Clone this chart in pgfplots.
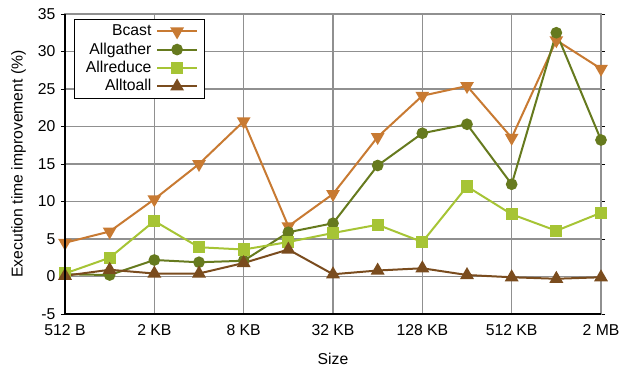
\documentclass[border=0pt]{standalone}
\usepackage{pgfplots}
\pgfplotsset{compat=1.18}
\usepackage{fontspec}
\setmainfont{Liberation Sans}

\definecolor{bcast}{HTML}{C87A32}
\definecolor{allgather}{HTML}{667A1E}
\definecolor{allreduce}{HTML}{A6C435}
\definecolor{alltoall}{HTML}{7A4C1E}
\definecolor{gridgray}{HTML}{909090}

\newcommand{\chartfont}{\fontsize{11.8}{14}\selectfont}

\begin{document}
\chartfont
\begin{tikzpicture}[x=0.75pt,y=0.75pt]
\begin{axis}[
  name=main,
  scale only axis,
  width=402pt, height=225pt,
  xmin=0, xmax=12, ymin=-5, ymax=35,
  xtick={0,2,4,6,8,10,12},
  xticklabels={512 B,2 KB,8 KB,32 KB,128 KB,512 KB,2 MB},
  ytick={-5,0,5,10,15,20,25,30,35},
  /pgf/number format/assume math mode=true,
  tick label style={font=\chartfont},
  label style={font=\chartfont},
  xlabel={Size},
  ylabel={Execution time improvement (\%)},
  xlabel style={yshift=-5pt},
  ylabel style={yshift=1pt},
  grid=major,
  major grid style={gridgray, line width=0.8pt},
  axis line style={gridgray, line width=0.8pt},
  xtick style={draw=none},
  ytick style={black, line width=0.6pt},
  tick align=outside,
  major tick length=3pt,
  x tick label style={yshift=-1pt},
  legend style={at={(0.017,0.983)}, anchor=north west, draw=black, line width=0.6pt,
    font=\chartfont, row sep=-0.5pt, inner ysep=2pt, inner xsep=5pt,
    nodes={inner xsep=3.5pt}},
  legend cell align=right,
  legend plot pos=right,
  legend image code/.code={
    \draw[mark repeat=2, mark phase=2, #1] plot coordinates {(0pt,0pt) (15pt,0pt) (30pt,0pt)};
  },
  every axis plot/.append style={line width=1.5pt},
  after end axis/.code={
    \draw[black, line width=0.8pt] (rel axis cs:0,1) -- (rel axis cs:0,0) -- (rel axis cs:1,0);
  },
]
\addplot[color=bcast, mark=triangle*, mark size=4.5pt, mark options={rotate=180, fill=bcast}]
  coordinates {(0,4.5)(1,6.0)(2,10.3)(3,15.0)(4,20.7)(5,6.7)(6,11.0)(7,18.6)(8,24.1)(9,25.4)(10,18.5)(11,31.5)(12,27.7)};
\addlegendentry{Bcast}
\addplot[color=allgather, mark=*, mark size=3.6pt, mark options={fill=allgather}]
  coordinates {(0,0.3)(1,0.2)(2,2.2)(3,1.9)(4,2.1)(5,5.9)(6,7.1)(7,14.8)(8,19.1)(9,20.3)(10,12.3)(11,32.5)(12,18.2)};
\addlegendentry{Allgather}
\addplot[color=allreduce, mark=square*, mark size=3.8pt, mark options={fill=allreduce}]
  coordinates {(0,0.4)(1,2.5)(2,7.4)(3,3.9)(4,3.6)(5,4.6)(6,5.8)(7,6.9)(8,4.6)(9,12.0)(10,8.3)(11,6.1)(12,8.5)};
\addlegendentry{Allreduce}
\addplot[color=alltoall, mark=triangle*, mark size=4.5pt, mark options={fill=alltoall}]
  coordinates {(0,0.1)(1,0.9)(2,0.4)(3,0.4)(4,1.8)(5,3.6)(6,0.3)(7,0.8)(8,1.1)(9,0.2)(10,-0.1)(11,-0.3)(12,-0.1)};
\addlegendentry{Alltoall}
\end{axis}
\pgfresetboundingbox
\path[use as bounding box] ([shift={(-65,-55)}]main.south west) rectangle ([shift={(18,14)}]main.north east);
\end{tikzpicture}
\end{document}
